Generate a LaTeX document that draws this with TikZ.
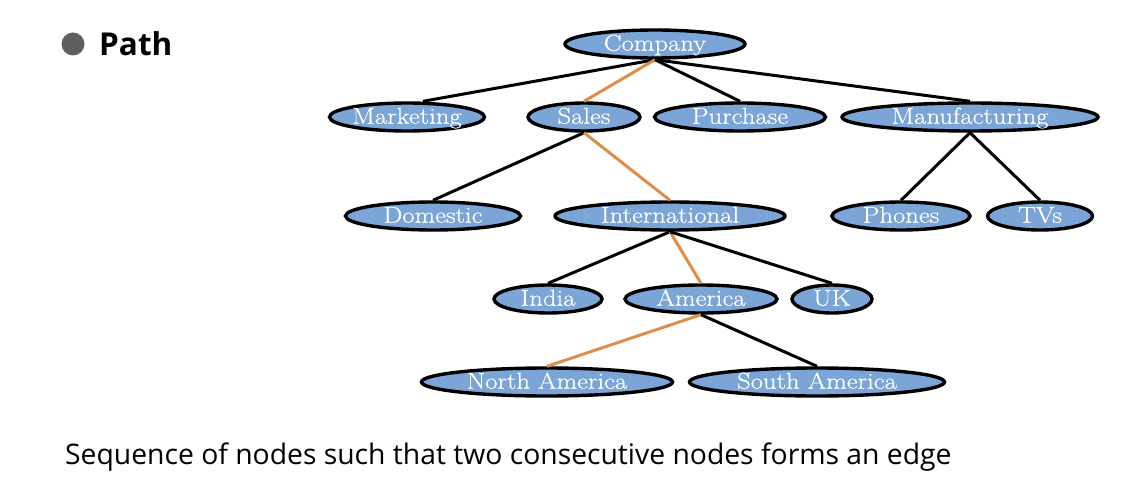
\documentclass[tikz,border=0pt]{standalone}
\usepackage{fontspec}
\newfontfamily\uisans{Open Sans}
\newfontfamily\nodefont[FakeStretch=1.16,FakeBold=0.6]{Latin Modern Roman}
\usetikzlibrary{shapes.geometric}
\definecolor{nodefill}{RGB}{122,165,214}
\definecolor{pathorange}{RGB}{222,142,72}
\definecolor{bulletgray}{RGB}{95,95,95}
\begin{document}
\begin{tikzpicture}[x=1pt,y=-1pt,
  tnode/.style={ellipse,draw=black,line width=3.4pt,fill=nodefill,inner sep=0pt,
    text=white,font=\nodefont\fontsize{23}{23}\selectfont,text height=15.5pt,text depth=2pt,minimum height=28pt},
  edge/.style={line width=3pt,draw=black},
  pathedge/.style={line width=3pt,draw=pathorange}]
\useasboundingbox (0,0) rectangle (1142,494);
% title
\fill[bulletgray] (73,44) circle (11.5);
\node[anchor=west,inner sep=0pt,font=\uisans\bfseries\fontsize{31.5}{31.5}\selectfont] (title) at (99,44) {Path};
% nodes
\node[tnode,minimum width=155pt] (marketing) at (407,117) {Marketing};
\node[tnode,minimum width=112pt] (sales) at (584,117) {Sales};
\node[tnode,minimum width=171pt] (purchase) at (740,117) {Purchase};
\node[tnode,minimum width=256pt] (manuf) at (970,117) {Manufacturing};
\node[tnode,minimum width=175pt] (domestic) at (433,216) {Domestic};
\node[tnode,minimum width=230pt] (intl) at (670,216) {International};
\node[tnode,minimum width=138pt] (phones) at (901,216) {Phones};
\node[tnode,minimum width=105pt] (tvs) at (1040,216) {TVs};
\node[tnode,minimum width=108pt] (india) at (548,299) {India};
\node[tnode,minimum width=152pt] (america) at (701,299) {America};
\node[tnode,minimum width=80pt] (uk) at (832,299) {UK};
\node[tnode,minimum width=251pt] (namerica) at (547,382) {North America};
\node[tnode,minimum width=255pt] (samerica) at (817,382) {South America};
\node[tnode,minimum width=180pt] (company) at (655,44) {Company};
% bottom text
\node[anchor=west,inner sep=0pt,font=\uisans\fontsize{28.3}{28.3}\selectfont] (caption) at (65,457) {Sequence of nodes such that two consecutive nodes forms an edge};
% edges
\draw[edge] (company.south) -- ([xshift=16pt]marketing.north);
\draw[pathedge] (company.south) -- (sales.north);
\draw[edge] (company.south) -- (purchase.north);
\draw[edge] (company.south) -- (manuf.north);
\draw[edge] (sales.south) -- (domestic.north);
\draw[pathedge] (sales.south) -- (intl.north);
\draw[edge] (manuf.south) -- (phones.north);
\draw[edge] (manuf.south) -- (tvs.north);
\draw[edge] (intl.south) -- (india.north);
\draw[pathedge] (intl.south) -- (america.north);
\draw[edge] (intl.south) -- (uk.north);
\draw[pathedge] (america.south) -- (namerica.north);
\draw[edge] (america.south) -- (samerica.north);
\end{tikzpicture}
\end{document}
